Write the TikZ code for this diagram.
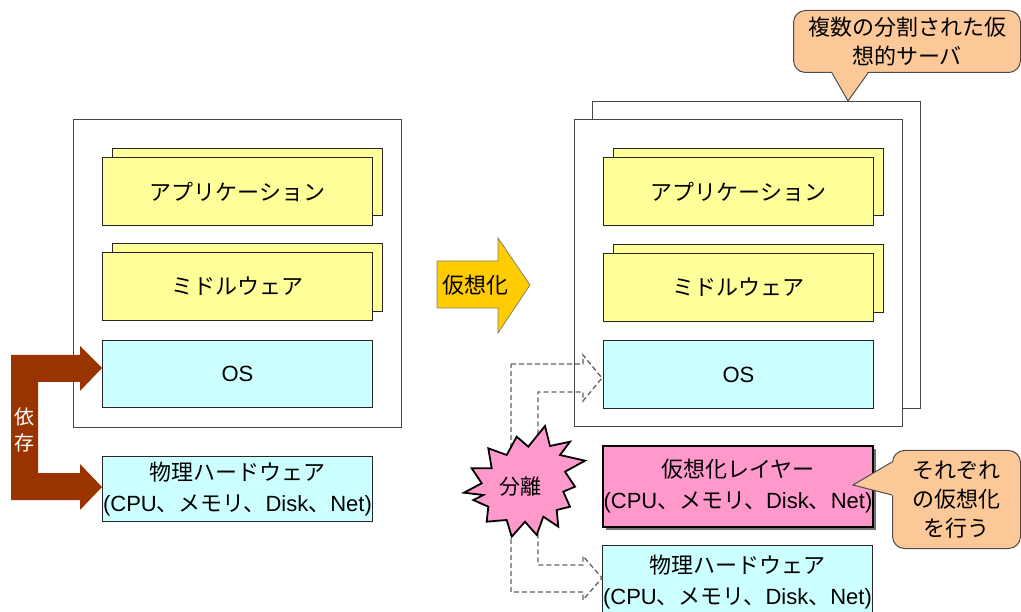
\documentclass[tikz,border=0pt]{standalone}
\usepackage{fontspec}
\setmainfont{Liberation Sans}
\newfontfamily\jp{Noto Sans CJK JP}
\usetikzlibrary{shadows,calc}
\definecolor{ylw}{HTML}{FFFF99}
\definecolor{cyn}{HTML}{CCFFFF}
\definecolor{pnk}{HTML}{FF99CC}
\definecolor{peach}{HTML}{FCC898}
\definecolor{gold}{HTML}{FFCC00}
\definecolor{brn}{HTML}{993300}
\begin{document}
\begin{tikzpicture}[x=1pt,y=-1pt,
  outerbox/.style={draw=black!72, line width=1.2pt, fill=white, anchor=north west, inner sep=0pt, minimum width=328},
  basebox/.style={draw=black!85, line width=1pt, anchor=north west, inner sep=0pt, minimum width=270, align=center, font=\fontsize{22}{31}\selectfont},
  ybox/.style={basebox, fill=ylw},
  cbox/.style={basebox, fill=cyn},
  pbox/.style={basebox, fill=pnk, draw=black, line width=2pt, drop shadow={shadow xshift=3pt, shadow yshift=-3pt, fill=black!55, opacity=1}},
  callout/.style={draw=black!70, line width=1pt, fill=peach, rounded corners=12pt, anchor=north west, inner sep=0pt, align=center, font=\jp\fontsize{22}{29}\selectfont},
  dashbracket/.style={draw=black!62, line width=1.3pt, dash pattern=on 5pt off 3pt},
  jtext/.style={font=\jp\fontsize{22}{31}\selectfont, inner sep=0pt}
]
\useasboundingbox (0,0) rectangle (1021,612);

% ---------------- left side ----------------
\node[outerbox, minimum height=308] (Lout) at (73,119) {};
\node[ybox, minimum height=67] (LappB) at (112,148) {};
\node[ybox, minimum height=68] (Lapp) at (102,157) {\jp アプリケーション};
\node[ybox, minimum height=68] (LmidB) at (112,243) {};
\node[ybox, minimum height=68] (Lmid) at (102,252) {\jp ミドルウェア};
\node[cbox, minimum height=67] (Los) at (102,340) {OS};
\node[cbox, minimum height=65] (Lhw) at (102,456) {{\jp 物理ハードウェア}\\(CPU{\jp 、メモリ、}Disk{\jp 、}Net)};

% dependency bracket arrow
\fill[brn] (11,355) -- (80,355) -- (80,346) -- (102,368) -- (80,391) -- (80,382)
  -- (38,382) -- (38,473) -- (80,473) -- (80,464) -- (102,487) -- (80,510)
  -- (80,500) -- (11,500) -- cycle;
\node[white, font=\jp\fontsize{20}{26}\selectfont, align=center, inner sep=0pt] (dep) at (24.5,430) {依\\存};

% ---------------- virtualization arrow ----------------
\draw[fill=gold, draw=black!50, line width=0.8pt] (437,261) -- (498,261) -- (498,238) -- (530,285)
  -- (498,333) -- (498,308) -- (437,308) -- cycle;
\node[jtext] (virt) at (475,285) {仮想化};

% ---------------- right side ----------------
\node[outerbox, minimum height=307] (RoutB) at (592,101) {};
\node[outerbox, minimum height=307] (Rout) at (574,119) {};
\node[ybox, minimum height=67] (RappB) at (613,148) {};
\node[ybox, minimum height=68] (Rapp) at (603,157) {\jp アプリケーション};
\node[ybox, minimum height=68] (RmidB) at (613,244) {};
\node[ybox, minimum height=68] (Rmid) at (603,253) {\jp ミドルウェア};
\node[cbox, minimum height=68] (Ros) at (603,340) {OS};
\node[pbox, minimum height=81] (vl) at (602,445) {{\jp 仮想化レイヤー}\\(CPU{\jp 、メモリ、}Disk{\jp 、}Net)};
\node[cbox, minimum height=73] (Rhw) at (602,545) {{\jp 物理ハードウェア}\\(CPU{\jp 、メモリ、}Disk{\jp 、}Net)};

% dashed separation bracket
\draw[dashbracket] (511,364) -- (583,364) -- (583,355) -- (602,378) -- (583,401) -- (583,392)
  -- (538,392) -- (538,565) -- (583,565) -- (583,556) -- (602,578) -- (583,600)
  -- (583,592) -- (511,592) -- cycle;

% starburst
\draw[fill=pnk, draw=black, line width=1.8pt, line join=miter]
  (545.0,426.0) -- (550.0,446.0) -- (570.0,441.7) -- (560.0,455.0) -- (585.0,460.7)
  -- (565.0,471.7) -- (575.0,486.7) -- (563.3,491.7) -- (570.0,506.7) -- (556.7,510.0)
  -- (558.3,526.7) -- (543.3,516.7) -- (536.7,535.0) -- (525.0,521.7) -- (511.7,536.7)
  -- (506.7,520.0) -- (486.7,521.7) -- (488.3,506.7) -- (473.3,500.0) -- (483.3,495.0)
  -- (464.0,492.7) -- (481.7,483.3) -- (471.7,468.3) -- (491.7,468.3) -- (488.3,448.3)
  -- (506.7,455.0) -- (516.7,436.7) -- (528.3,446.7) -- cycle;
\node[font=\jp\fontsize{21}{26}\selectfont, inner sep=0pt] (sep) at (520,487) {分離};

% ---------------- callouts ----------------
\node[callout, minimum width=227, minimum height=62] (c1) at (793,10) {複数の分割された仮\\想的サーバ};
\fill[peach] ($(c1.south west)+(38,-3)$) -- (848,101) -- ($(c1.south west)+(76,-3)$) -- cycle;
\draw[draw=black!70, line width=1pt, line join=miter] ($(c1.south west)+(39,0)$) -- (848,101) -- ($(c1.south west)+(75,0)$);

\node[callout, minimum width=128, minimum height=98] (c2) at (892,450) {それぞれ\\の仮想化\\を行う};
\fill[peach] ($(c2.north west)+(3,11)$) -- (853,485) -- ($(c2.north west)+(3,46)$) -- cycle;
\draw[draw=black!70, line width=1pt, line join=miter] ($(c2.north west)+(0,12)$) -- (853,485) -- ($(c2.north west)+(0,45)$);
\end{tikzpicture}
\end{document}
